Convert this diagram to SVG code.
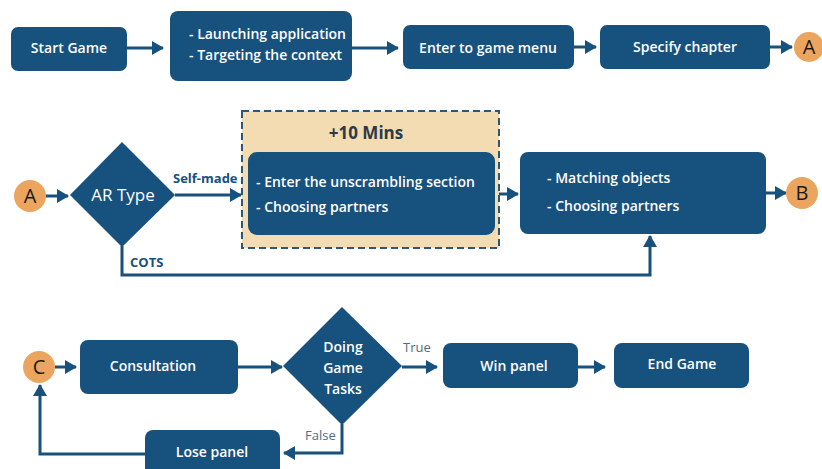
<svg xmlns="http://www.w3.org/2000/svg" width="822" height="469" viewBox="0 0 822 469">
<style>
.box{fill:#17517d;}
.t{fill:#fff;font-family:"Open Sans","DejaVu Sans",sans-serif;font-size:14px;font-weight:600;}
.c{fill:#eba55f;}
.ct{fill:#1a1a1a;font-family:"Open Sans","DejaVu Sans",sans-serif;font-size:20px;}
.ln{fill:none;stroke:#17517d;stroke-width:3;}
.lb{fill:#17517d;font-family:"Open Sans","DejaVu Sans",sans-serif;font-size:13px;font-weight:700;}
.lg{fill:#4f6d86;font-family:"Open Sans","DejaVu Sans",sans-serif;font-size:13px;}
</style>
<defs>
<marker id="ah" markerWidth="12" markerHeight="14" refX="11" refY="7" orient="auto" markerUnits="userSpaceOnUse">
<path d="M0,0 L12,7 L0,14 Z" fill="#17517d"/>
</marker>
</defs>
<rect width="822" height="469" fill="#fff"/>

<g id="connectors">
<line class="ln" x1="127" y1="48" x2="163" y2="48" marker-end="url(#ah)"/>
<line class="ln" x1="352" y1="48" x2="398" y2="48" marker-end="url(#ah)"/>
<line class="ln" x1="574" y1="47" x2="596" y2="47" marker-end="url(#ah)"/>
<line class="ln" x1="770" y1="47" x2="792" y2="47" marker-end="url(#ah)"/>
<line class="ln" x1="46" y1="196" x2="68" y2="196" marker-end="url(#ah)"/>
<line class="ln" x1="175" y1="195" x2="241" y2="195" marker-end="url(#ah)"/>
<line class="ln" x1="495" y1="194" x2="518" y2="194" marker-end="url(#ah)"/>
<line class="ln" x1="766" y1="193" x2="786" y2="193" marker-end="url(#ah)"/>
<polyline class="ln" points="122,246 122,275 650,275 650,236" marker-end="url(#ah)"/>
<line class="ln" x1="55" y1="367" x2="76" y2="367" marker-end="url(#ah)"/>
<line class="ln" x1="238" y1="367" x2="282" y2="367" marker-end="url(#ah)"/>
<line class="ln" x1="402" y1="367" x2="437" y2="367" marker-end="url(#ah)"/>
<line class="ln" x1="578" y1="367" x2="605" y2="367" marker-end="url(#ah)"/>
<polyline class="ln" points="342,424 342,453 284,453" marker-end="url(#ah)"/>
<polyline class="ln" points="146,454 40,454 40,385" marker-end="url(#ah)"/>
<text class="lb" x="173" y="183">Self-made</text>
<text class="lb" x="130" y="267">COTS</text>
<text class="lg" x="403" y="352">True</text>
<text class="lg" x="305" y="440">False</text>
</g>

<g id="start-game">
<rect class="box" x="11" y="27" width="116" height="44" rx="7"/>
<text class="t" x="69" y="53" text-anchor="middle">Start Game</text>
</g>
<g id="launching">
<rect class="box" x="170" y="11" width="182" height="70" rx="8"/>
<text class="t" x="189" y="39">- Launching application</text>
<text class="t" x="189" y="60">- Targeting the context</text>
</g>
<g id="game-menu">
<rect class="box" x="403" y="25" width="171" height="44" rx="7"/>
<text class="t" x="488" y="53" text-anchor="middle">Enter to game menu</text>
</g>
<g id="specify-chapter">
<rect class="box" x="600" y="25" width="170" height="44" rx="7"/>
<text class="t" x="685" y="52" text-anchor="middle">Specify chapter</text>
</g>
<g id="circle-a1">
<circle class="c" cx="809" cy="47" r="15"/>
<text class="ct" x="809" y="54" text-anchor="middle">A</text>
</g>

<g id="circle-a2">
<circle class="c" cx="30" cy="196" r="16"/>
<text class="ct" x="30" y="203" text-anchor="middle">A</text>
</g>
<g id="ar-type">
<polygon class="box" points="122,142 175,195 122,247 70,195"/>
<text class="t" x="123" y="201" text-anchor="middle" style="font-size:17px;font-weight:500">AR Type</text>
</g>
<g id="ten-mins">
<rect x="242" y="111" width="257" height="137" fill="#f3dbb2" stroke="#2d5677" stroke-width="2" stroke-dasharray="7,4"/>
<text class="lb" x="366" y="139" text-anchor="middle" style="font-size:17px;fill:#2c3a48">+10 Mins</text>
<rect class="box" x="248" y="152" width="247" height="83" rx="9"/>
<text class="t" x="256" y="187">- Enter the unscrambling section</text>
<text class="t" x="256" y="212">- Choosing partners</text>
</g>
<g id="matching">
<rect class="box" x="520" y="152" width="246" height="82" rx="8"/>
<text class="t" x="547" y="183">- Matching objects</text>
<text class="t" x="547" y="211">- Choosing partners</text>
</g>
<g id="circle-b">
<circle class="c" cx="802" cy="193" r="16"/>
<text class="ct" x="802" y="200" text-anchor="middle">B</text>
</g>

<g id="circle-c">
<circle class="c" cx="39" cy="367" r="16"/>
<text class="ct" x="39" y="374" text-anchor="middle">C</text>
</g>
<g id="consultation">
<rect class="box" x="80" y="340" width="158" height="54" rx="8"/>
<text class="t" x="153" y="371" text-anchor="middle">Consultation</text>
</g>
<g id="doing-tasks">
<polygon class="box" points="342,307 402,366 342,425 283,366"/>
<text class="t" x="343" y="352" text-anchor="middle">Doing</text>
<text class="t" x="343" y="373" text-anchor="middle">Game</text>
<text class="t" x="343" y="394" text-anchor="middle">Tasks</text>
</g>
<g id="win-panel">
<rect class="box" x="443" y="343" width="135" height="45" rx="8"/>
<text class="t" x="514" y="371" text-anchor="middle">Win panel</text>
</g>
<g id="end-game">
<rect class="box" x="614" y="343" width="135" height="45" rx="8"/>
<text class="t" x="682" y="369" text-anchor="middle">End Game</text>
</g>
<g id="lose-panel">
<rect class="box" x="145" y="430" width="135" height="48" rx="8"/>
<text class="t" x="212" y="457" text-anchor="middle">Lose panel</text>
</g>
</svg>
